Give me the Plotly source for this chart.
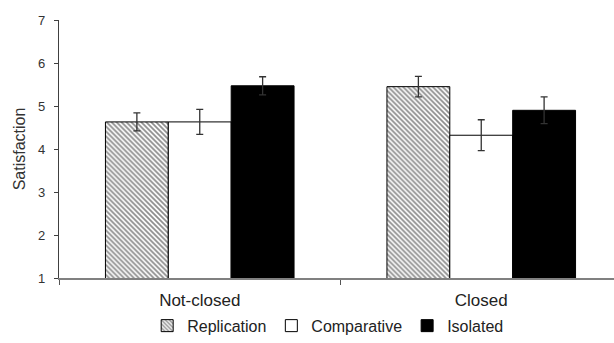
import plotly.graph_objects as go

categories = ["Not-closed", "Closed"]
series_names = ["Replication", "Comparative", "Isolated"]
replication = [4.63, 5.45]
replication_err = [0.21, 0.24]
comparative = [4.63, 4.32]
comparative_err = [0.29, 0.36]
isolated = [5.47, 4.90]
isolated_err = [0.21, 0.31]
y_ticks = [1, 2, 3, 4, 5, 6, 7]

FONT = "Liberation Sans, Arial, sans-serif"

fig = go.Figure()
err_style = dict(type="data", thickness=1.3, width=3.5, color="#333333")

fig.add_trace(go.Bar(
    name=series_names[0], x=categories, y=replication,
    error_y=dict(array=replication_err, **err_style),
    marker=dict(color="white", line=dict(color="black", width=1),
                pattern=dict(shape="\\", size=3.5, solidity=0.5,
                             fgcolor="#1a1a1a", bgcolor="white", fillmode="overlay")),
))
fig.add_trace(go.Bar(
    name=series_names[1], x=categories, y=comparative,
    error_y=dict(array=comparative_err, **err_style),
    marker=dict(color="white", line=dict(color="black", width=1)),
))
fig.add_trace(go.Bar(
    name=series_names[2], x=categories, y=isolated,
    error_y=dict(array=isolated_err, **err_style),
    marker=dict(color="black", line=dict(color="black", width=1)),
))

fig.update_layout(
    width=614, height=343,
    margin=dict(l=59, r=0, t=20, b=65, autoexpand=False),
    paper_bgcolor="white", plot_bgcolor="white",
    barmode="group", bargap=0.33, bargroupgap=0,
    font=dict(family=FONT, color="#222222"),
    showlegend=True,
    legend=dict(orientation="h", x=0.485, xanchor="center", y=-0.185, yanchor="middle",
                font=dict(size=16, family=FONT, color="#222222"),
                itemwidth=30, traceorder="normal"),
)
fig.update_xaxes(
    range=[-0.5, 1.4716], showline=True, linecolor="#808080", linewidth=1.5,
    ticks="outside", tickson="boundaries", ticklen=5, tickcolor="#555555",
    tickfont=dict(size=17, family=FONT, color="#222222"),
    ticklabelstandoff=6, showgrid=False, zeroline=False,
)
fig.update_yaxes(
    range=[1, 7], tickvals=y_ticks, showline=True, linecolor="#404040", linewidth=1.2,
    ticks="outside", ticklen=4, tickcolor="#404040",
    tickfont=dict(size=13, family=FONT, color="#333333"),
    ticklabelstandoff=6, showgrid=False, zeroline=False,
    title=dict(text="Satisfaction", font=dict(size=16, family=FONT, color="#333333"), standoff=8),
)

fig.write_html("out.html", config={"displayModeBar": False},
               post_script="document.body.style.margin='0';")
